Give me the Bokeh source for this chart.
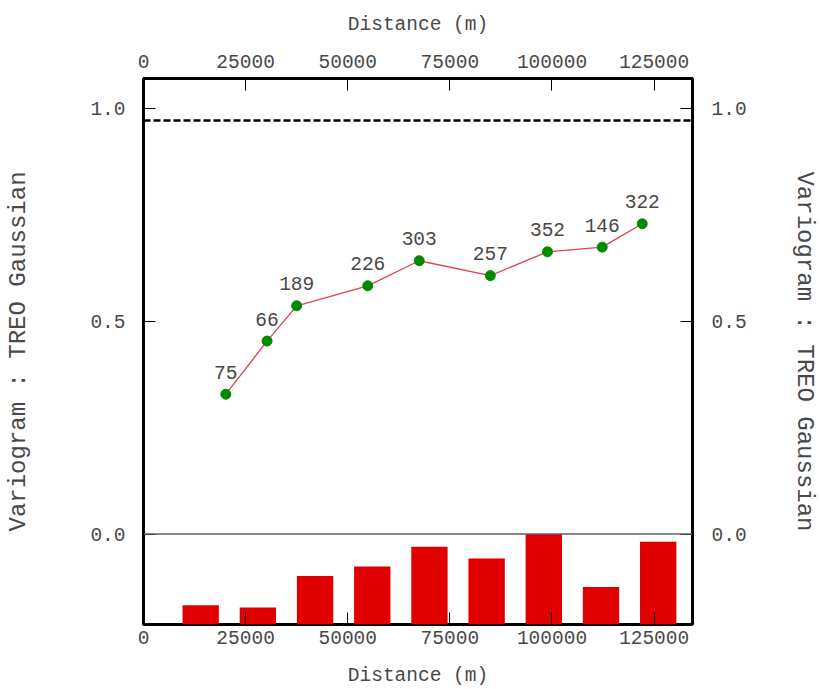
from bokeh.plotting import figure
from bokeh.models import Range1d, LinearAxis, FixedTicker, PrintfTickFormatter, Span, ColumnDataSource
from bokeh.core.properties import value
from bokeh.embed import file_html
from bokeh.resources import INLINE

# ---- data ----
lag_distance = [20150, 30250, 37500, 54900, 67500, 84900, 98900, 112300, 122100]
variogram = [0.329, 0.454, 0.537, 0.584, 0.643, 0.608, 0.664, 0.675, 0.730]
pair_counts = [75, 66, 189, 226, 303, 257, 352, 146, 322]
bar_centers = [14000, 28000, 42000, 56000, 70000, 84000, 98000, 112000, 126000]
sill = 0.973
x_ticks = [0, 25000, 50000, 75000, 100000, 125000]
y_ticks = [0.0, 0.5, 1.0]

X_START, X_END = 0, 134400
Y_START, Y_END = -0.2127, 1.0717
BAR_WIDTH = 8900

MONO = "Liberation Mono"
TXT = "#484848"

p = figure(width=820, height=689, output_backend="svg", toolbar_location=None,
           x_range=Range1d(X_START, X_END), y_range=Range1d(Y_START, Y_END),
           min_border_left=143, min_border_right=127, min_border_top=78, min_border_bottom=64,
           background_fill_color="white", border_fill_color="white")
p.grid.visible = False
p.outline_line_color = "black"
p.outline_line_width = 3
p.outline_line_alpha = 1.0

# bars (pair counts), scaled between bottom of frame and y = 0
maxc = max(pair_counts)
bar_top = [Y_START + c / maxc * (0 - Y_START) for c in pair_counts]
p.vbar(x=bar_centers, width=BAR_WIDTH, bottom=Y_START, top=bar_top,
       fill_color="#e00000", line_color=None)

p.add_layout(Span(location=0, dimension="width", line_color="#606060", line_width=1.5))
p.add_layout(Span(location=sill, dimension="width", line_color="black", line_width=2.5,
                  line_dash="7 3"))

src = ColumnDataSource(dict(x=lag_distance, y=variogram, lab=[str(c) for c in pair_counts]))
p.line("x", "y", source=src, line_color="#e0404e", line_width=1.3)
p.scatter("x", "y", source=src, size=10, fill_color="#008a00", line_color="#008a00")
p.text("x", "y", text="lab", source=src, text_font=value(MONO), text_font_size="19.5px",
       text_color=TXT, text_align="center", text_baseline="middle", y_offset=-22)

xt = FixedTicker(ticks=x_ticks)
yt = FixedTicker(ticks=y_ticks)


def style(ax, label_size, label_standoff, axis_label_standoff):
    ax.major_tick_in = 12
    ax.major_tick_out = 0
    ax.minor_tick_line_color = None
    ax.major_tick_line_color = "black"
    ax.major_tick_line_width = 1
    ax.axis_line_color = None
    ax.major_label_text_font = MONO
    ax.major_label_text_font_size = "19.5px"
    ax.major_label_text_color = TXT
    ax.major_label_standoff = label_standoff
    ax.axis_label_text_font = MONO
    ax.axis_label_text_font_size = label_size
    ax.axis_label_text_font_style = "normal"
    ax.axis_label_text_color = TXT
    ax.axis_label_standoff = axis_label_standoff


p.xaxis.ticker = xt
p.xaxis.formatter = PrintfTickFormatter(format="%d")
p.xaxis.axis_label = "Distance (m)"
style(p.xaxis[0], "19.5px", 6, 18)

p.yaxis.ticker = yt
p.yaxis.formatter = PrintfTickFormatter(format="%.1f")
p.yaxis.axis_label = "Variogram : TREO Gaussian"
style(p.yaxis[0], "24px", 18, 55)

top = LinearAxis(ticker=xt, formatter=PrintfTickFormatter(format="%d"), axis_label="Distance (m)")
style(top, "19.5px", 11, 16)
p.add_layout(top, "above")

right = LinearAxis(ticker=yt, formatter=PrintfTickFormatter(format="%.1f"),
                   axis_label="Variogram : TREO Gaussian")
style(right, "24px", 19, 41)
p.add_layout(right, "right")

open("out.html", "w").write(file_html(p, INLINE))
